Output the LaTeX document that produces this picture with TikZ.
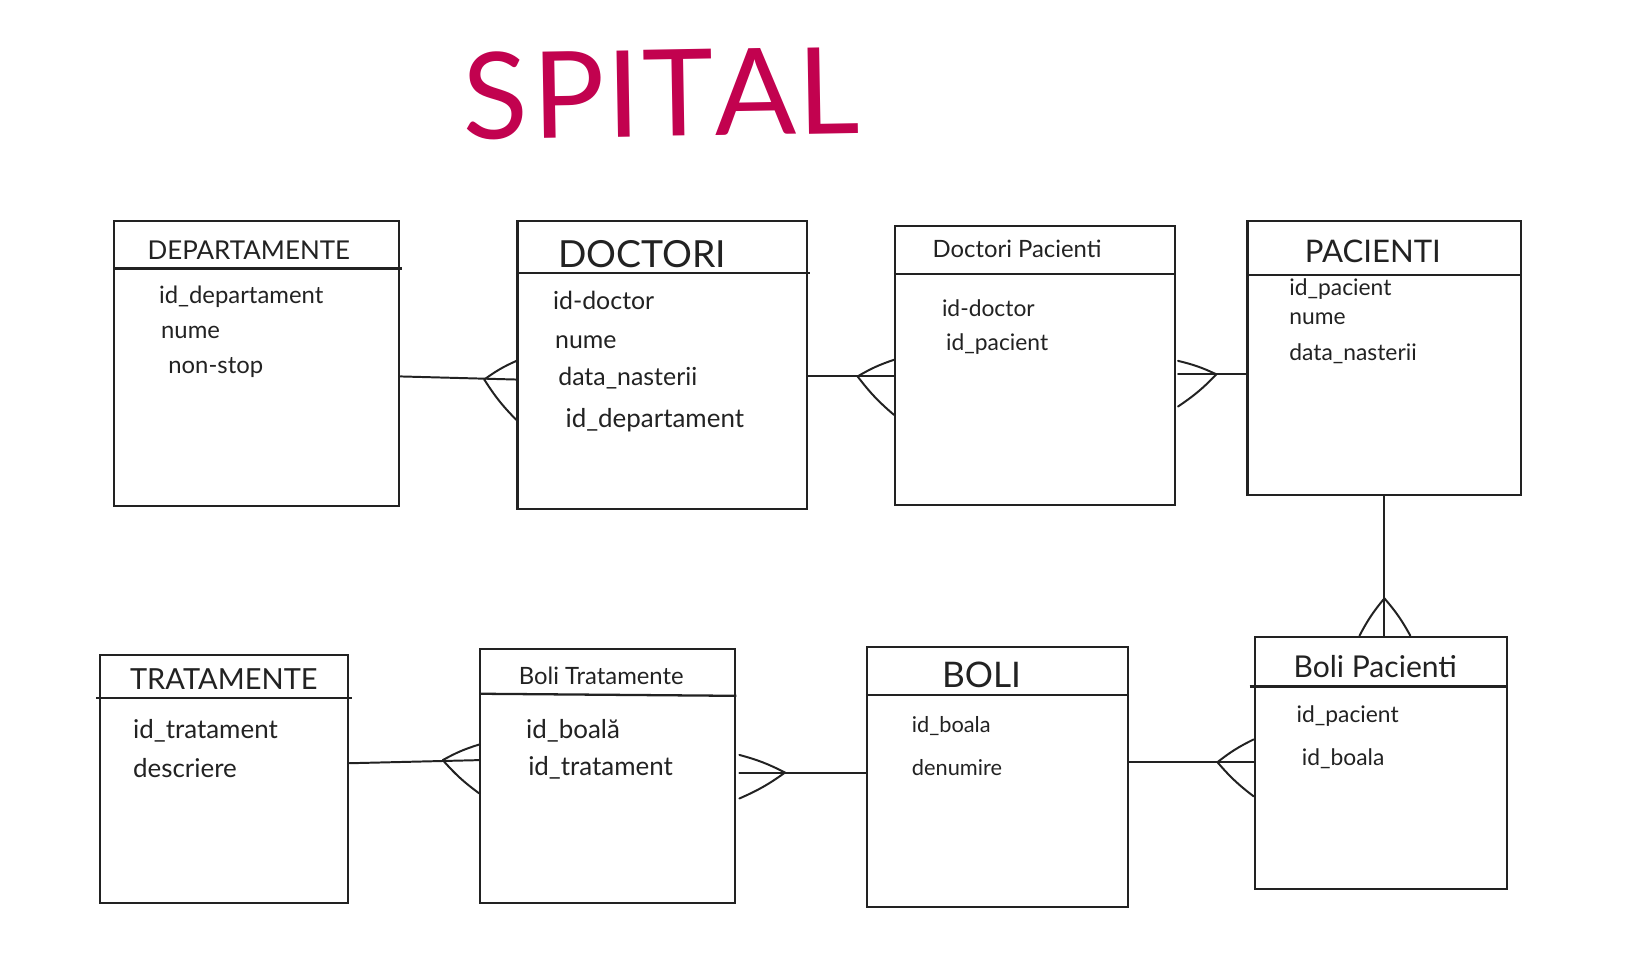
\documentclass[tikz,border=0pt]{standalone}
\usepackage{fontspec}
\setmainfont{Lato}
\usetikzlibrary{fit,calc}
\definecolor{ink}{HTML}{222222}
\definecolor{titlered}{HTML}{C2024F}
\tikzset{
  entity/.style={draw=ink, line width=1pt, inner sep=0pt},
  hdrline/.style={draw=ink, line width=1.1pt},
  conn/.style={draw=ink, line width=0.95pt, line cap=round},
  attr/.style={anchor=base west, inner sep=0pt, text=ink, font=\fontsize{#1}{#1}\selectfont},
  attr/.default=12,
  hdr/.style={anchor=base west, inner sep=0pt, text=ink, font=\fontsize{#1}{#1}\selectfont},
}
\newcommand{\crowH}[4]{% attach, fork dx, up, down
  \draw[conn] ($(#1)+(#2,0)$) to[bend left=6] ($(#1)+(0,-#3)$);
  \draw[conn] ($(#1)+(#2,0)$) to[bend right=6] ($(#1)+(0,#4)$);}
\newcommand{\crowHr}[4]{% attach, fork dx (positive), up, down
  \draw[conn] ($(#1)+(#2,0)$) to[bend right=6] ($(#1)+(0,-#3)$);
  \draw[conn] ($(#1)+(#2,0)$) to[bend left=6] ($(#1)+(0,#4)$);}
\newcommand{\crowV}[4]{% attach, fork dy (negative = above), left, right
  \draw[conn] ($(#1)+(0,#2)$) to[bend right=6] ($(#1)+(-#3,0)$);
  \draw[conn] ($(#1)+(0,#2)$) to[bend left=6] ($(#1)+(#4,0)$);}
\begin{document}
\begin{tikzpicture}[x=0.5pt,y=-0.5pt]
\useasboundingbox (0,0) rectangle (1568,926);
\fill[white] (0,0) rectangle (1568,926);

% title
\node[anchor=base west, inner sep=0pt, text=titlered, font=\fontsize{58}{60}\selectfont, rotate=1] (title) at (447,135) {S\kern2pt P\kern1pt I\kern1pt T\kern0.5pt A\kern0.5pt L};

% ---- top row ----
\node[entity, fit={(110,213) (385,488)}] (dep) {};
\draw[hdrline] (dep.west |- 0,259) -- ([xshift=1pt]dep.east |- 0,259);
\node[hdr=12.5] (depT) at (142,250) {DEPARTAMENTE};
\node[attr=11.5] (depA1) at (153,293) {id\_departament};
\node[attr=11.5] (depA2) at (155,326) {nume};
\node[attr=11.5] (depA3) at (162,360) {non-stop};

\node[entity, fit={(499,213) (778,491)}] (doc) {};
\draw[hdrline] (doc.west |- 0,263) -- ([xshift=1pt]doc.east |- 0,263);
\node[hdr=18] (docT) at (538,258) {DOCTORI};
\node[attr=12] (docA1) at (533,298) {id-doctor};
\node[attr=12] (docA2) at (535,336) {nume};
\node[attr=12] (docA3) at (538,372) {data\_nasterii};
\node[attr=12.5] (docA4) at (545,412) {id\_departament};

\node[entity, fit={(863,218) (1133,487)}] (dp) {};
\draw[hdrline] (dp.west |- 0,264) -- (dp.east |- 0,264);
\node[hdr=11.5] (dpT) at (899,248) {Doctori Pacienti};
\node[attr=11] (dpA1) at (908,305) {id-doctor};
\node[attr=11] (dpA2) at (912,338) {id\_pacient};

\node[entity, fit={(1203,213) (1467,477)}] (pac) {};
\draw[hdrline] (pac.west |- 0,265) -- (pac.east |- 0,265);
\node[hdr=15] (pacT) at (1258,253) {PACIENTI};
\node[attr=11] (pacA1) at (1243,285) {id\_pacient};
\node[attr=11] (pacA2) at (1243,313) {nume};
\node[attr=11] (pacA3) at (1243,348) {data\_nasterii};

% ---- bottom row ----
\node[entity, fit={(96,632) (336,871)}] (tr) {};
\draw[hdrline] ([xshift=-1pt]tr.west |- 0,673) -- ([xshift=1pt]tr.east |- 0,673);
\node[hdr=14] (trT) at (125,665) {TRATAMENTE};
\node[attr=12.5] (trA1) at (128,712) {id\_tratament};
\node[attr=12.5] (trA2) at (128,750) {descriere};

\node[entity, fit={(463,626) (709,871)}] (bt) {};
\draw[hdrline] (bt.west |- 0,669) -- (bt.east |- 0,671);
\node[hdr=11.5] (btT) at (500,660) {Boli Tratamente};
\node[attr=12.5] (btA1) at (507,712) {id\_boală};
\node[attr=12.5] (btA2) at (509,748) {id\_tratament};

\node[entity, fit={(836,624) (1088,875)}] (boli) {};
\draw[hdrline] (boli.west |- 0,670) -- (boli.east |- 0,670);
\node[hdr=17] (boliT) at (908,663) {BOLI};
\node[attr=10.5] (boliA1) at (879,706) {id\_boala};
\node[attr=10.5] (boliA2) at (879,748) {denumire};

\node[entity, fit={(1210,614) (1453,857)}] (bp) {};
\draw[hdrline] ([xshift=-2pt]bp.west |- 0,662) -- (bp.east |- 0,662);
\node[hdr=14.5] (bpT) at (1247,653) {Boli Pacienti};
\node[attr=11] (bpA1) at (1250,697) {id\_pacient};
\node[attr=11] (bpA2) at (1255,738) {id\_boala};

% ---- connectors ----
\coordinate (c1) at (doc.west |- 0,366);
\draw[conn] (dep.east |- 0,363) -- (c1);
\crowH{c1}{-31}{18}{39}

\coordinate (c2) at (dp.west |- 0,363);
\draw[conn] (doc.east |- 0,363) -- (c2);
\crowH{c2}{-35}{16}{37}

\coordinate (c3) at ([xshift=1pt]dp.east |- 0,361);
\draw[conn] (c3) -- (pac.west |- 0,361);
\crowHr{c3}{37}{13}{31}

\coordinate (c4) at (bp.north -| 1335,0);
\draw[conn] (pac.south -| 1335,0) -- (c4);
\crowV{c4}{-36}{24}{25}

\coordinate (c5) at (bt.west |- 0,733);
\draw[conn] (tr.east |- 0,736) -- (c5);
\crowH{c5}{-35}{15}{32}

\coordinate (c6) at ([xshift=1.5pt]bt.east |- 0,745);
\draw[conn] (c6) -- (boli.west |- 0,745);
\crowHr{c6}{44}{17}{25}

\coordinate (c7) at (bp.west |- 0,735);
\draw[conn] (boli.east |- 0,735) -- (c7);
\crowH{c7}{-35}{22}{33}
\end{tikzpicture}
\end{document}
